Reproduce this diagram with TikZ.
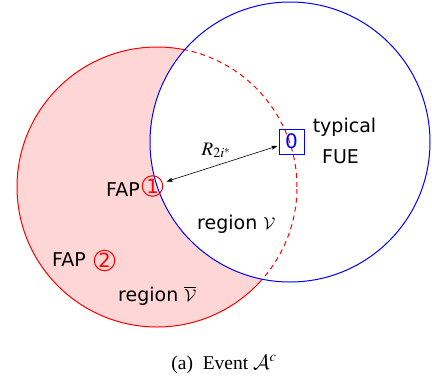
\documentclass[tikz,border=0pt]{standalone}
\usepackage{mathptmx}
\DeclareMathAlphabet{\mathcal}{OMS}{cmsy}{m}{n}
\usepackage{fontspec}
\setmainfont{Liberation Serif}
\newfontfamily\dvs{DejaVu Sans}
\usetikzlibrary{arrows.meta}
\definecolor{pinkfill}{RGB}{255,214,214}
\tikzset{
  sanslabel/.style={font=\dvs\fontsize{19}{23}\selectfont, inner sep=0pt},
  fuebox/.style={draw=blue, text=blue, line width=1pt, minimum size=25pt, inner sep=0pt, font=\dvs\fontsize{20}{24}\selectfont},
  fapcirc/.style={draw=red, text=red, circle, line width=1pt, minimum size=20.5pt, inner sep=0pt, font=\dvs\fontsize{19.5}{23}\selectfont},
  bluecircle/.style={draw=blue, line width=1pt},
  redsolid/.style={draw=red, line width=1pt},
  reddash/.style={draw=red, line width=1pt, dash pattern=on 5pt off 4pt},
}
\begin{document}
\begin{tikzpicture}[x=1pt,y=-1pt]
\useasboundingbox (0,0) rectangle (432,384);
% coordinates of circle centres
\coordinate (rc) at (157,187);
\coordinate (bc) at (290,142);
% pink region outside blue circle
\fill[pinkfill] (rc) circle [radius=140pt];
\fill[white] (bc) circle [radius=140pt];
% red circle: dashed inside blue, solid outside
\begin{scope}
  \clip (bc) circle [radius=140pt];
  \draw[reddash] (rc) circle [radius=140pt];
\end{scope}
\begin{scope}[even odd rule]
  \clip (-20,-20) rectangle (452,404) (bc) circle [radius=140pt];
  \draw[redsolid] (rc) circle [radius=140pt];
\end{scope}
\draw[bluecircle] (bc) circle [radius=140pt];
% nodes
\node[fuebox] (n0) at (291.5,141.5) {0};
\node[fapcirc] (n1) at (152.5,186) {1};
\node[fapcirc] (n2) at (104.5,260.5) {2};
\node[sanslabel, anchor=base east] (fap1) at (140,196) {FAP};
\node[sanslabel, anchor=base east] (fap2) at (86,266.5) {FAP};
\node[sanslabel, anchor=base] (typ) at (344.5,132) {typical};
\node[sanslabel, anchor=base] (fue) at (340.5,163) {FUE};
\node[sanslabel, anchor=base west] (regv) at (197,229) {region $\mathcal{V}$};
\node[sanslabel, anchor=base west] (regvb) at (118,301.5) {region $\overline{\mathcal{V}}$};
\node[inner sep=0pt, anchor=base west, font=\fontsize{19}{23}\selectfont] (rlab) at (201.5,155) {$R_{2i^*}$};
\node[inner sep=0pt, anchor=base, font=\fontsize{19.5}{23}\selectfont] (cap) at (224,369) {(a)\ \ Event $\mathcal{A}^c$};
% arrow
\draw[{Stealth[length=6pt,width=4pt,inset=1pt]}-{Stealth[length=6pt,width=4pt,inset=1pt]}, line width=0.6pt, shorten <=4pt, shorten >=1pt] (n1) -- (n0);
\end{tikzpicture}
\end{document}
